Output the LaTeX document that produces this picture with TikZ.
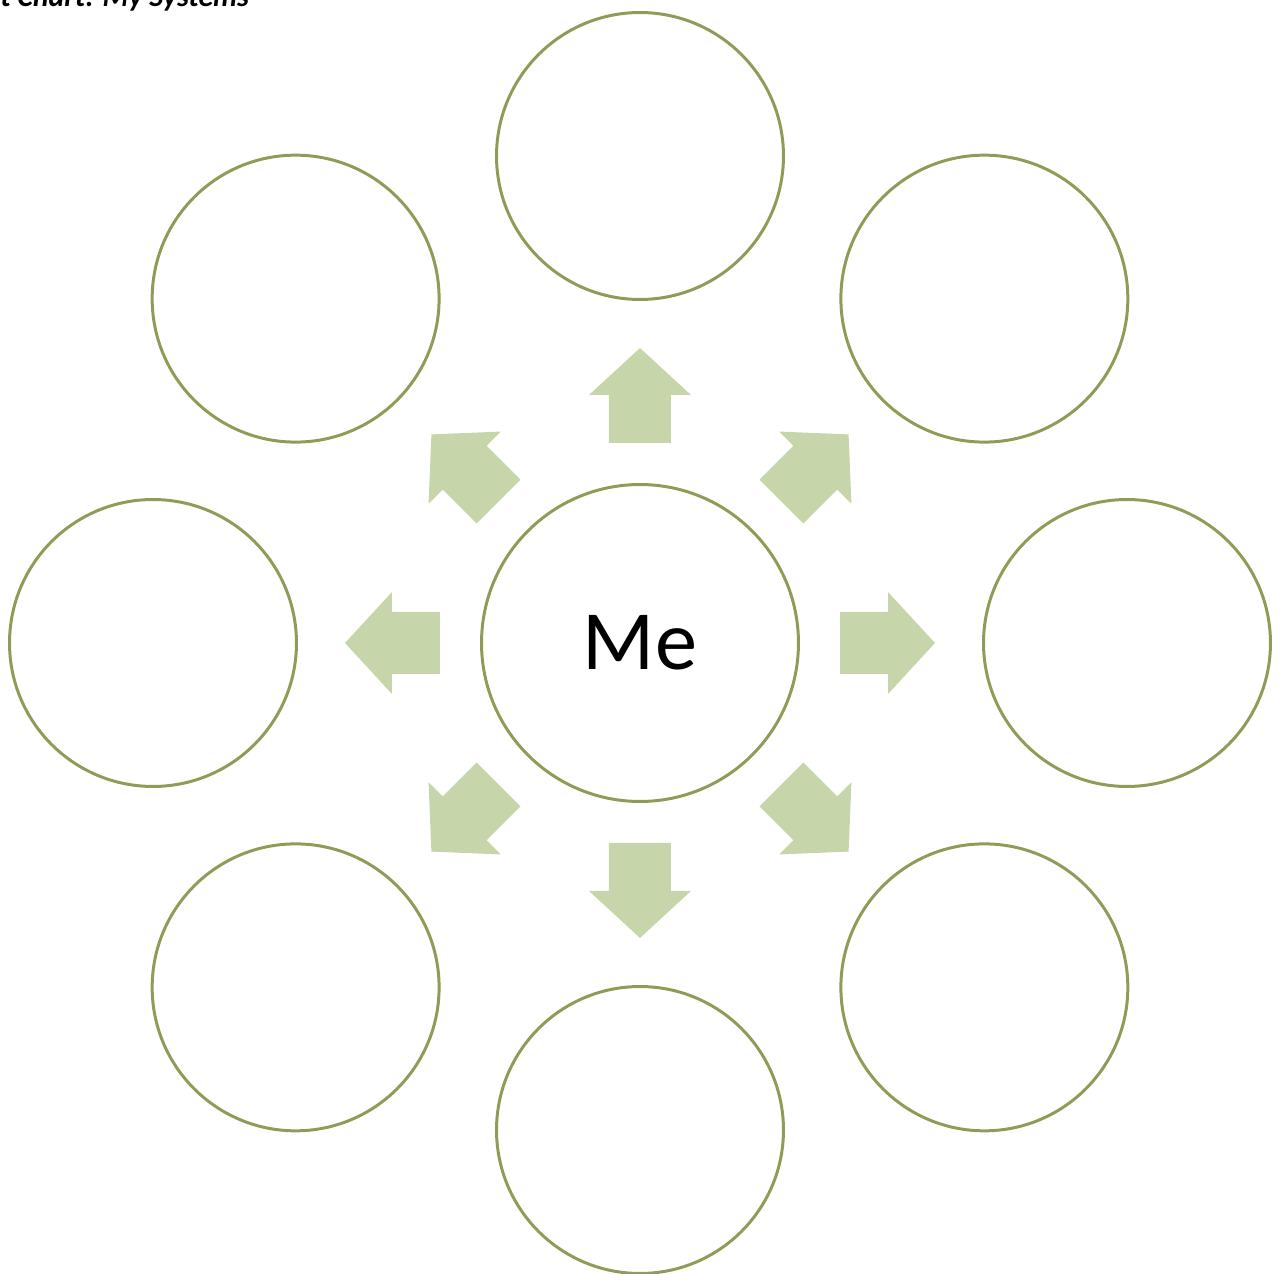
\documentclass[tikz,border=0pt]{standalone}
\usepackage{fontspec}
\setmainfont{Carlito}
\definecolor{ringline}{RGB}{146,154,88}
\definecolor{arrowfill}{RGB}{198,214,170}
\tikzset{
  ring/.style={circle, draw=ringline, line width=1.7pt, inner sep=0pt, minimum size=5.74cm},
  blockarrow/.style={fill=arrowfill, draw=none},
}
\begin{document}
\begin{tikzpicture}[x=0.02cm, y=0.02cm]
    \useasboundingbox (-640,-631) rectangle (642,643);
    \clip (-640,-631) rectangle (642,643);

    % Title, cut off by the top edge
    \node[anchor=base west, inner sep=0pt, font=\fontsize{17}{20}\selectfont\bfseries\itshape] (title) at (-640,636) {t Chart: My Systems};

    % Centre circle
    \node[ring, minimum size=6.34cm, font=\fontsize{48}{56}\selectfont] (me) at (0,0) {Me};

    % Outer circles
    \foreach \i/\a in {1/90, 2/45, 3/0, 4/-45, 5/-90, 6/-135, 7/180, 8/135}
        \node[ring] (c\i) at (\a:487) {};

    % Block arrows pointing outwards
    \foreach \a in {0,45,...,315}
        \fill[blockarrow, shift={(me.center)}, rotate=\a]
            (200,-31) -- (248,-31) -- (248,-51) -- (295,0) -- (248,51) -- (248,31) -- (200,31) -- cycle;
\end{tikzpicture}
\end{document}
